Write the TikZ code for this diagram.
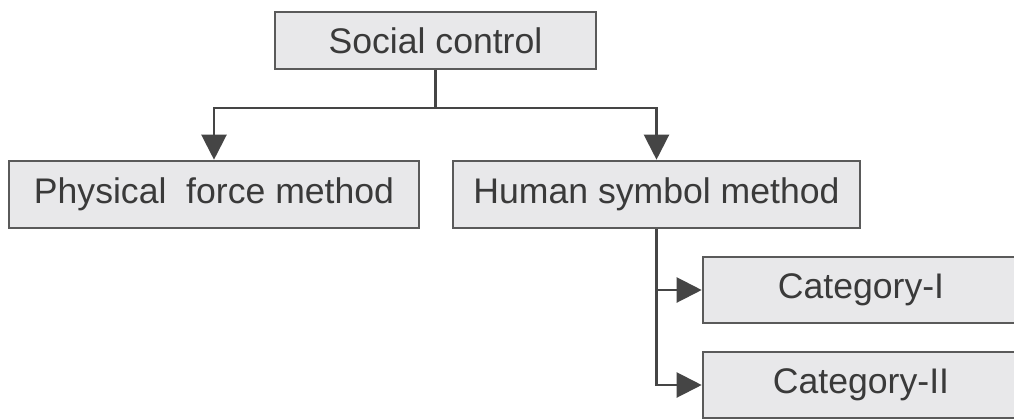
\documentclass[tikz,border=0pt]{standalone}
\usepackage{fontspec}
\setmainfont{Liberation Sans}
\usetikzlibrary{arrows.meta}
\definecolor{boxfill}{HTML}{E8E8EA}
\definecolor{boxline}{HTML}{5A5A5A}
\definecolor{txt}{HTML}{3A3A3A}
\definecolor{conn}{HTML}{454545}
\tikzset{
  boxnode/.style={draw=boxline, fill=boxfill, line width=2.6pt, inner sep=0pt,
    text=txt, font=\fontsize{35.6}{40}\selectfont},
  conline/.style={draw=conn, line width=2.2pt},
  arr/.style={conline, -{Triangle[width=25pt,length=25pt]}}
}
\begin{document}
\begin{tikzpicture}[x=1pt,y=-1pt]
\useasboundingbox (0,0) rectangle (1014,418);
\node[boxnode, minimum width=321pt, minimum height=57pt] (sc) at (435.5,40.5) {Social control};
\node[boxnode, minimum width=410pt, minimum height=67pt] (pf) at (214,194.5) {Physical\ \ force method};
\node[boxnode, minimum width=407pt, minimum height=67pt] (hs) at (656.5,194.5) {Human symbol method};
\node[boxnode, minimum width=316pt, minimum height=66pt] (c1) at (861,290) {Category-I};
\node[boxnode, minimum width=316pt, minimum height=66pt] (c2) at (861,385) {Category-II};
\coordinate (j) at (435.5,108);
\draw[conline] (sc.south) -- (j);
\draw[arr] (j) -| (pf.north);
\draw[arr] (j) -| (hs.north);
\draw[arr] (hs.south) |- (c1.west);
\draw[arr] (hs.south) |- (c2.west);
\end{tikzpicture}
\end{document}
